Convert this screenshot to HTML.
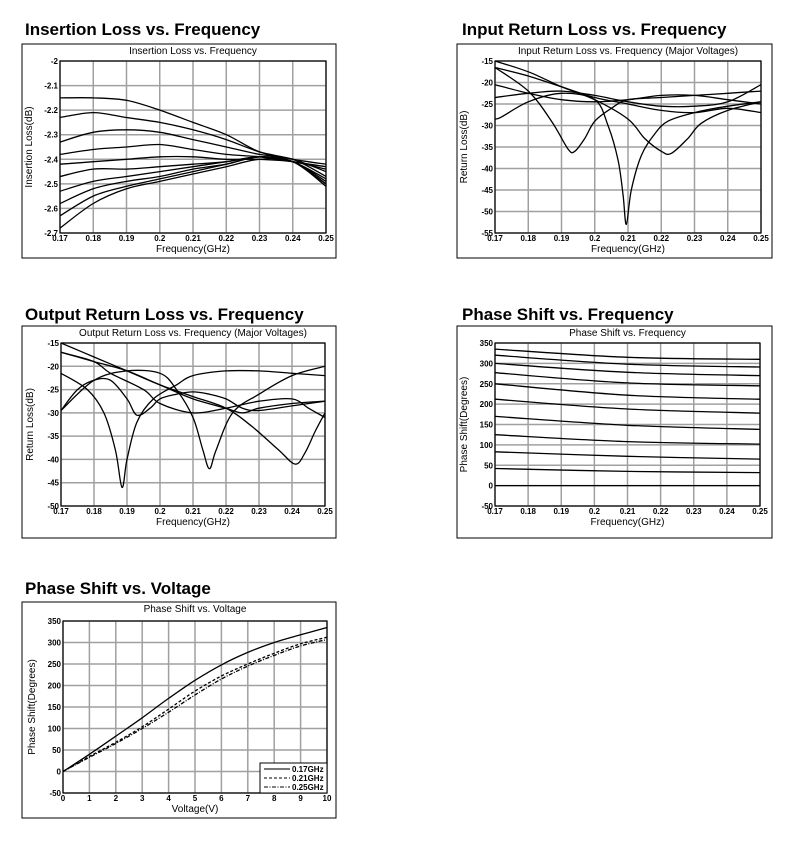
<!DOCTYPE html>
<html><head><meta charset="utf-8"><style>
body{margin:0;background:#fff;}
svg{display:block;font-family:"Liberation Sans",Arial,sans-serif;}
.h{font-weight:bold;font-size:17px;fill:#000}
.t{font-size:10px;fill:#000}
.tk{font-size:8px;font-weight:bold;fill:#000}
.g{stroke:#a0a0a0;stroke-width:1.5}
.s{fill:none;stroke:#000;stroke-width:1.3}
</style></head><body>
<svg id="page" width="797" height="841" viewBox="0 0 797 841"></svg>
<script>
const freqTicks=[0.17,0.18,0.19,0.2,0.21,0.22,0.23,0.24,0.25];
const ilFreq=[0.17,0.18,0.19,0.20,0.21,0.22,0.23,0.24,0.25];
const ilSeries=[
[-2.15,-2.15,-2.16,-2.20,-2.25,-2.30,-2.37,-2.40,-2.42],
[-2.23,-2.21,-2.23,-2.25,-2.28,-2.32,-2.37,-2.40,-2.45],
[-2.33,-2.29,-2.28,-2.29,-2.32,-2.35,-2.38,-2.40,-2.47],
[-2.38,-2.36,-2.35,-2.34,-2.36,-2.38,-2.39,-2.41,-2.43],
[-2.42,-2.41,-2.40,-2.39,-2.39,-2.40,-2.40,-2.41,-2.44],
[-2.47,-2.44,-2.44,-2.43,-2.42,-2.41,-2.39,-2.41,-2.48],
[-2.53,-2.49,-2.47,-2.45,-2.43,-2.41,-2.39,-2.41,-2.50],
[-2.58,-2.52,-2.49,-2.47,-2.44,-2.42,-2.39,-2.41,-2.49],
[-2.63,-2.55,-2.51,-2.48,-2.45,-2.42,-2.39,-2.41,-2.50],
[-2.68,-2.58,-2.52,-2.49,-2.46,-2.43,-2.40,-2.41,-2.51]];
const ilYTicks=[-2,-2.1,-2.2,-2.3,-2.4,-2.5,-2.6,-2.7];

const irlF=[
[0.17,0.18,0.187,0.192,0.194,0.197,0.2,0.205,0.21,0.22,0.23,0.24,0.25],
[0.17,0.172,0.18,0.19,0.2,0.204,0.207,0.2085,0.2095,0.211,0.214,0.218,0.222,0.23,0.24,0.25],
[0.17,0.18,0.19,0.2,0.21,0.215,0.22,0.223,0.228,0.232,0.24,0.25],
[0.17,0.18,0.19,0.2,0.21,0.22,0.23,0.24,0.25],
[0.17,0.18,0.19,0.2,0.21,0.22,0.23,0.24,0.25],
[0.17,0.18,0.19,0.2,0.21,0.22,0.23,0.24,0.25]];
const irlV=[
[-16.5,-22,-29,-35.5,-36,-33,-29,-26,-24,-23.5,-23,-22.5,-22],
[-28.5,-28,-24.5,-22.5,-24,-30,-38,-46,-53,-45,-37,-32,-29,-27,-25.5,-24.5],
[-15,-17.5,-21,-24,-28.5,-33,-36,-36.5,-33,-29.5,-26.5,-24.5],
[-16.5,-18.5,-21,-23.5,-25,-26.5,-27,-26,-27],
[-20.5,-22.5,-24,-24.5,-24,-23,-23,-24,-25],
[-23.5,-22.5,-22,-23,-24.5,-25.5,-25.5,-24.5,-20.5]];
const irlYTicks=[-15,-20,-25,-30,-35,-40,-45,-50,-55];

const orlF=[
[0.17,0.178,0.183,0.1865,0.1885,0.19,0.193,0.198,0.205,0.21,0.22,0.23,0.24,0.25],
[0.17,0.18,0.19,0.2,0.205,0.21,0.213,0.215,0.217,0.222,0.23,0.24,0.25],
[0.17,0.18,0.19,0.2,0.21,0.22,0.228,0.236,0.241,0.244,0.247,0.25],
[0.17,0.175,0.18,0.185,0.19,0.193,0.197,0.2,0.205,0.21,0.215,0.22,0.225,0.23,0.24,0.25],
[0.17,0.18,0.19,0.2,0.21,0.22,0.225,0.23,0.24,0.25],
[0.17,0.18,0.185,0.195,0.2,0.21,0.22,0.23,0.24,0.245,0.25]];
const orlV=[
[-21.5,-25,-30,-38,-46,-40,-32,-27,-24,-22,-21,-21,-21.5,-22],
[-29.5,-23,-21,-21.5,-25,-31,-38,-42,-38,-30,-26,-22,-20],
[-15,-18,-21,-24,-26.5,-29,-33,-38,-41,-38.5,-34,-30],
[-29.5,-25,-23,-23,-27,-30.5,-29,-27,-26,-25.5,-26,-27,-29,-29.5,-28.5,-27.5],
[-17,-19,-21,-24,-27,-29,-30,-29,-28,-27.5],
[-17,-19,-21.5,-25,-28,-30,-29,-27.5,-27,-29,-31]];
const orlYTicks=[-15,-20,-25,-30,-35,-40,-45,-50];

const psFreq=[0.17,0.21,0.25];
const psSeries=[[335,315,310],[320,298,291],[300,278,270],[277,252,245],[250,222,212],[212,188,178],[170,148,138],[125,108,102],[83,72,65],[42,35,32],[0,0,0]];
const phaseYTicks=[-50,0,50,100,150,200,250,300,350];

const voltages=[0,1,2,3,4,5,6,7,8,9,10];
const ps017=[0,40,82,125,170,212,248,277,300,318,335];
const ps021=[0,35,68,104,145,187,222,250,275,297,312];
const ps025=[0,33,65,100,138,178,215,245,270,292,307];
const legendLabels=["0.17GHz","0.21GHz","0.25GHz"];

const NS="http://www.w3.org/2000/svg";
const svg=document.getElementById('page');
function mk(tag,attrs,parent,text){const e=document.createElementNS(NS,tag);for(const k in attrs)e.setAttribute(k,attrs[k]);if(text!==undefined)e.textContent=text;(parent||svg).appendChild(e);return e;}

function smoothPath(pts){
  let d='M'+pts[0][0].toFixed(1)+' '+pts[0][1].toFixed(1);
  for(let i=0;i<pts.length-1;i++){
    const p0=pts[i-1]||pts[i],p1=pts[i],p2=pts[i+1],p3=pts[i+2]||p2;
    const c1=[p1[0]+(p2[0]-p0[0])/6,p1[1]+(p2[1]-p0[1])/6];
    const c2=[p2[0]-(p3[0]-p1[0])/6,p2[1]-(p3[1]-p1[1])/6];
    d+=` C${c1[0].toFixed(1)} ${c1[1].toFixed(1)} ${c2[0].toFixed(1)} ${c2[1].toFixed(1)} ${p2[0].toFixed(1)} ${p2[1].toFixed(1)}`;
  }
  return d;
}

function chart(c){
  const g=mk('g',{});
  
  
  const h=mk('text',{x:c.hx,y:c.hy,class:'h'},g,c.heading);
  
  
  const box=mk('rect',{x:c.bx,y:c.by,width:c.bw,height:c.bh,fill:'#fff',stroke:'#000','stroke-width':1},g);
  
  
  const L=c.px,R=c.px+c.pw,T=c.py,B=c.py+c.ph;
  const xs=v=>L+(v-c.xmin)/(c.xmax-c.xmin)*c.pw;
  const ys=v=>T+(c.ymax-v)/(c.ymax-c.ymin)*c.ph;
  const tt=mk('text',{x:(L+R)/2,y:c.by+10,class:'t','text-anchor':'middle'},g,c.title);
  
  
  c.xticks.forEach(v=>{
    const ln=mk('line',{x1:xs(v),x2:xs(v),y1:T,y2:B,class:'g'},g);
    
    
    const tl=mk('text',{x:xs(v),y:B+8,class:'tk','text-anchor':'middle'},g,String(v));
    
    
  });
  c.yticks.forEach(v=>{
    const ln=mk('line',{x1:L,x2:R,y1:ys(v),y2:ys(v),class:'g'},g);
    
    
    const tl=mk('text',{x:L-2,y:ys(v)+3,class:'tk','text-anchor':'end'},g,String(v));
    
    
  });
  const pr=mk('rect',{x:L,y:T,width:c.pw,height:c.ph,fill:'none',stroke:'#000','stroke-width':1.2},g);
  
  
  c.series.forEach((s,i)=>{
    const pts=s.x.map((x,j)=>[xs(x),ys(s.y[j])]);
    const p=mk('path',{d:smoothPath(pts),class:'s'},g);
    if(c.sw)p.setAttribute('stroke-width',c.sw);
    if(s.dash)p.setAttribute('stroke-dasharray',s.dash);
    
    
  });
  const xt=mk('text',{x:(L+R)/2,y:B+19,class:'t','text-anchor':'middle'},g,c.xtitle);
  
  
  const yx=L-28;
  const yt=mk('text',{x:yx,y:(T+B)/2,class:'t','text-anchor':'middle',transform:`rotate(-90 ${yx} ${(T+B)/2})`},g,c.ytitle);
  
  
  return {g,xs,ys,L,R,T,B};
}

chart({name:'insertion-loss-chart',heading:'Insertion Loss vs. Frequency',hx:25,hy:35,bx:22,by:44,bw:314,bh:214,sw:1.9,
  px:60,py:61,pw:266,ph:172,xmin:0.17,xmax:0.25,ymin:-2.7,ymax:-2,xticks:freqTicks,yticks:ilYTicks,
  title:'Insertion Loss vs. Frequency',xtitle:'Frequency(GHz)',ytitle:'Insertion Loss(dB)',
  series:ilSeries.map(v=>({x:ilFreq,y:v}))});
chart({name:'input-return-loss-chart',heading:'Input Return Loss vs. Frequency',hx:462,hy:35,bx:457,by:44,bw:315,bh:214,
  px:495,py:61,pw:266,ph:172,xmin:0.17,xmax:0.25,ymin:-55,ymax:-15,xticks:freqTicks,yticks:irlYTicks,
  title:'Input Return Loss vs. Frequency (Major Voltages)',xtitle:'Frequency(GHz)',ytitle:'Return Loss(dB)',
  series:irlF.map((f,i)=>({x:f,y:irlV[i]}))});
chart({name:'output-return-loss-chart',heading:'Output Return Loss vs. Frequency',hx:25,hy:320,bx:22,by:326,bw:314,bh:212,
  px:61,py:343,pw:264,ph:163,xmin:0.17,xmax:0.25,ymin:-50,ymax:-15,xticks:freqTicks,yticks:orlYTicks,
  title:'Output Return Loss vs. Frequency (Major Voltages)',xtitle:'Frequency(GHz)',ytitle:'Return Loss(dB)',
  series:orlF.map((f,i)=>({x:f,y:orlV[i]}))});
chart({name:'phase-shift-frequency-chart',heading:'Phase Shift vs. Frequency',hx:462,hy:320,bx:457,by:326,bw:315,bh:212,
  px:495,py:343,pw:265,ph:163,xmin:0.17,xmax:0.25,ymin:-50,ymax:350,xticks:freqTicks,yticks:phaseYTicks,
  title:'Phase Shift vs. Frequency',xtitle:'Frequency(GHz)',ytitle:'Phase Shift(Degrees)',
  series:psSeries.map(v=>({x:psFreq,y:v}))});
const c5=chart({name:'phase-shift-voltage-chart',heading:'Phase Shift vs. Voltage',hx:25,hy:594,bx:22,by:602,bw:314,bh:216,
  px:63,py:621,pw:264,ph:172,xmin:0,xmax:10,ymin:-50,ymax:350,xticks:voltages,yticks:phaseYTicks,
  title:'Phase Shift vs. Voltage',xtitle:'Voltage(V)',ytitle:'Phase Shift(Degrees)',
  series:[{x:voltages,y:ps017},{x:voltages,y:ps021,dash:'3 2'},{x:voltages,y:ps025,dash:'4 1.5 1 1.5'}]});
const lg=mk('g',{},c5.g);


mk('rect',{x:260,y:763,width:67,height:30,fill:'#fff',stroke:'#000','stroke-width':1},lg);
const dashes=[null,'3 2','4 1.5 1 1.5'];
legendLabels.forEach((lab,i)=>{
  const y=769+i*9;
  const ln=mk('line',{x1:264,x2:290,y1:y,y2:y,stroke:i?'#000':'#777','stroke-width':i?1:2},lg);
  if(dashes[i])ln.setAttribute('stroke-dasharray',dashes[i]);
  
  
  const t=mk('text',{x:292,y:y+3,class:'tk'},lg,lab);
  
  
});
</script>
</body></html>
